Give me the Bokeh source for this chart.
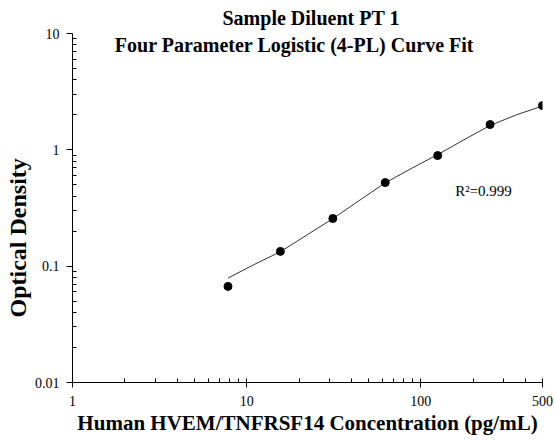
import math
from bokeh.plotting import figure
from bokeh.models import Label, FixedTicker, Range1d, CustomJSTickFormatter, Title
from bokeh.embed import file_html
from bokeh.resources import INLINE

# Data
conc = [7.8125, 15.625, 31.25, 62.5, 125, 250, 500]
od = [0.067, 0.134, 0.257, 0.523, 0.893, 1.65, 2.40]

# Fitted 4-PL curve
curve_x = [7.8125, 11, 15.625, 22, 31.25, 44, 62.5, 88, 125, 177, 250, 354, 500]
curve_y = [0.079, 0.103, 0.133, 0.184, 0.256, 0.364, 0.52, 0.69, 0.91, 1.22, 1.62, 2.0, 2.38]

x_ticks = [1, 10, 100, 500]
x_minor = [2, 3, 4, 5, 6, 7, 8, 9, 20, 30, 40, 50, 60, 70, 80, 90, 200, 300, 400]
y_ticks = [0.01, 0.1, 1, 10]
y_minor = [0.02, 0.03, 0.04, 0.05, 0.06, 0.07, 0.08, 0.09,
           0.2, 0.3, 0.4, 0.5, 0.6, 0.7, 0.8, 0.9,
           2, 3, 4, 5, 6, 7, 8, 9]

title1 = "Sample Diluent PT 1"
title2 = "Four Parameter Logistic (4-PL) Curve Fit"
x_title = "Human HVEM/TNFRSF14 Concentration (pg/mL)"
y_title = "Optical Density"
r2_text = "R\u00b2=0.999"

FONT = "Liberation Serif"

p = figure(
    x_axis_type="log", y_axis_type="log",
    x_range=Range1d(1, 500), y_range=Range1d(0.01, 10),
    frame_width=470, frame_height=349,
    min_border_left=72, min_border_top=33, min_border_bottom=58, min_border_right=11,
    output_backend="svg", toolbar_location=None,
)
p.outline_line_color = None
p.xgrid.visible = False
p.ygrid.visible = False
p.background_fill_color = "white"
p.border_fill_color = "white"

fmt = CustomJSTickFormatter(code="return tick.toString();")

xa = p.xaxis[0]
xa.ticker = FixedTicker(ticks=x_ticks, minor_ticks=x_minor)
xa.formatter = fmt
xa.major_tick_in = 4
xa.major_tick_out = 5
xa.minor_tick_in = 4
xa.minor_tick_out = 0
xa.major_label_standoff = 8
xa.major_label_text_font = FONT
xa.major_label_text_font_size = "14px"
xa.major_label_text_color = "black"
xa.axis_line_color = "black"
xa.major_tick_line_color = "black"
xa.minor_tick_line_color = "black"

ya = p.yaxis[0]
ya.ticker = FixedTicker(ticks=y_ticks, minor_ticks=y_minor)
ya.formatter = fmt
ya.major_tick_in = 0
ya.major_tick_out = 6
ya.minor_tick_in = 4
ya.minor_tick_out = 0
ya.major_label_standoff = 7
ya.major_label_text_font = FONT
ya.major_label_text_font_size = "14px"
ya.major_label_text_color = "black"
ya.axis_line_color = "black"
ya.major_tick_line_color = "black"
ya.minor_tick_line_color = "black"

p.line(curve_x, curve_y, line_color="#333333", line_width=1)
p.scatter(conc, od, size=8, fill_color="black", line_color="black")

# Title line 1 in the top border
p.title = Title(text=title1, align="left", offset=150, standoff=5,
                vertical_align="top",
                text_font=FONT, text_font_size="20px", text_font_style="bold",
                text_color="black")

# Axis titles as Title annotations in side panels
p.add_layout(Title(text=x_title, align="center", standoff=1,
                   text_font=FONT, text_font_size="21px", text_font_style="bold",
                   text_color="black"), "below")
p.add_layout(Title(text=y_title, align="left", offset=65, standoff=2,
                   text_font=FONT, text_font_size="24px", text_font_style="bold",
                   text_color="black"), "left")

def lab(text, x, y, size, bold=True):
    p.add_layout(Label(
        x=x, y=y, x_units="screen", y_units="screen", text=text,
        text_font=FONT, text_font_size=size,
        text_font_style="bold" if bold else "normal",
        text_align="center", text_baseline="middle", text_color="black",
    ))

lab(title2, 222, 338, "20px")
lab(r2_text, 411, 192, "15px", bold=False)

open("out.html", "w").write(file_html(p, INLINE))
